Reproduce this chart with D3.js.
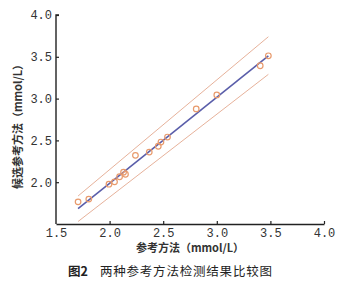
<!DOCTYPE html>
<html><head><meta charset="utf-8">
<script src="https://cdn.jsdelivr.net/npm/d3@7"></script>
<style>body{margin:0;background:#fff;}svg{display:block;}</style>
</head><body>
<svg id="c" width="341" height="281"></svg>
<script>
const refX = [1.706,1.806,1.994,2.046,2.093,2.13,2.148,2.241,2.37,2.454,2.479,2.54,2.808,3.0,3.405,3.481];
const candY = [1.765,1.798,1.976,2.004,2.065,2.12,2.095,2.321,2.36,2.43,2.48,2.54,2.877,3.044,3.393,3.512];
const fitX = [1.706,3.481];
const fitY = [1.685,3.512];
const upperY = [1.835,3.74];
const lowerY = [1.53,3.29];
const ticks = [1.5,2.0,2.5,3.0,3.5,4.0];
const xTitle = "参考方法（mmol/L）";
const yTitle = "候选参考方法（mmol/L）";
const caption1 = "图2";
const caption2 = "两种参考方法检测结果比较图";

const svg = d3.select("#c");
const x = d3.scaleLinear().domain([1.5,4.0]).range([56,324]);
const y = d3.scaleLinear().domain([1.5,4.0]).range([224,15]);

const tickFont = "'Liberation Mono','DejaVu Sans Mono',monospace";
const xa = svg.append("g").attr("transform","translate(0,224)")
  .call(d3.axisBottom(x).tickValues(ticks).tickFormat(d3.format(".1f")).tickSizeInner(-3).tickSizeOuter(0).tickPadding(4));
const ya = svg.append("g").attr("transform","translate(56,0)")
  .call(d3.axisLeft(y).tickValues(ticks).tickFormat(d3.format(".1f")).tickSizeInner(-3).tickSizeOuter(0).tickPadding(4));
[xa,ya].forEach(a=>{
  a.select(".domain").attr("stroke","#222").attr("stroke-width",1.4);
  a.selectAll(".tick line").attr("stroke","#222").attr("stroke-width",1.2);
  a.selectAll(".tick text").attr("fill","#333").style("font-family",tickFont).style("font-size","12px");
});
ya.selectAll(".tick").filter(d=>d===1.5).select("text").remove();
ya.selectAll(".tick").filter(d=>d===1.5).select("line").remove();
ya.select(".domain").attr("d","M0,224V15H3");
xa.selectAll(".tick").filter(d=>d===1.5).select("line").remove();
xa.selectAll(".tick text").attr("dy","0.71em");

const line = d3.line().x(d=>x(d[0])).y(d=>y(d[1]));
const band = "#e3a88e";
svg.append("path").attr("d",line([[fitX[0],upperY[0]],[fitX[1],upperY[1]]])).attr("stroke",band).attr("stroke-width",0.9).attr("fill","none");
svg.append("path").attr("d",line([[fitX[0],lowerY[0]],[fitX[1],lowerY[1]]])).attr("stroke",band).attr("stroke-width",0.9).attr("fill","none");
svg.append("path").attr("d",line([[fitX[0],fitY[0]],[fitX[1],fitY[1]]])).attr("stroke","#5a5eaa").attr("stroke-width",1.6).attr("fill","none");

svg.append("g").selectAll("circle").data(refX.map((v,i)=>[v,candY[i]])).join("circle")
  .attr("cx",d=>x(d[0])).attr("cy",d=>y(d[1])).attr("r",2.8)
  .attr("fill","none").attr("stroke","#e89a6c").attr("stroke-width",1.2);

const cjk = "'Noto Sans CJK SC',sans-serif";
svg.append("text").attr("x",190).attr("y",252).attr("text-anchor","middle")
  .style("font-family",cjk).style("font-size","11px").style("font-weight","bold").attr("fill","#333").text(xTitle);
svg.append("text").attr("transform","translate(22,124) rotate(-90)").attr("text-anchor","middle")
  .style("font-family",cjk).style("font-size","11px").style("font-weight","bold").attr("fill","#333").text(yTitle);

const cap = svg.append("text").attr("x",68).attr("y",276).style("font-family",cjk).attr("fill","#222");
cap.append("tspan").style("font-weight","bold").style("font-size","12.5px").text(caption1);
cap.append("tspan").attr("dx",12).style("font-size","12.5px").style("letter-spacing","0.8px").text(caption2);
</script>
</body></html>
